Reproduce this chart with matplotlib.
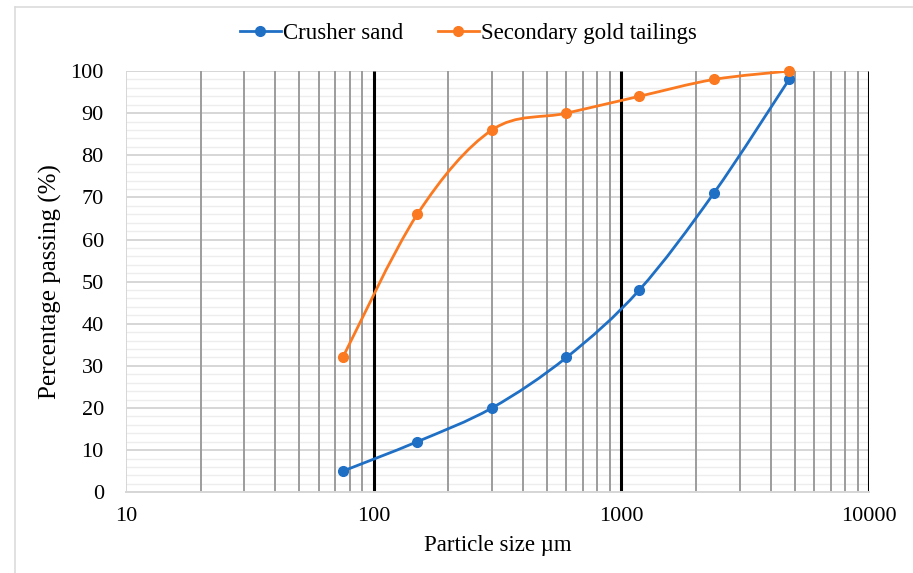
import numpy as np
import matplotlib
matplotlib.use('Agg')
import matplotlib.pyplot as plt
from matplotlib.path import Path
from matplotlib.patches import PathPatch
from matplotlib.lines import Line2D
from matplotlib.ticker import FixedLocator, NullFormatter

plt.rcParams['font.family'] = ['Liberation Serif', 'DejaVu Serif']

# sieve sizes (um) and percentage passing
sizes = [75, 150, 300, 600, 1180, 2360, 4750]
crusher_sand = [5, 12, 20, 32, 48, 71, 98]
gold_tailings = [32, 66, 86, 90, 94, 98, 100]

x_major = [10, 100, 1000, 10000]
x_minor = [m * 10 ** e for e in (1, 2, 3) for m in range(2, 10)]

BLUE = '#1f6fc5'
ORANGE = '#fb7a21'


def smooth_path(xs, ys, tension=1 / 6):
    # Excel-style smoothed line: Catmull-Rom as cubic beziers in log-x space
    lx = np.log10(xs)
    y = np.asarray(ys, dtype=float)
    n = len(lx)
    verts = [(xs[0], y[0])]
    codes = [Path.MOVETO]
    for i in range(n - 1):
        x0, y0 = (lx[i - 1], y[i - 1]) if i > 0 else (lx[i], y[i])
        x1, y1 = lx[i], y[i]
        x2, y2 = lx[i + 1], y[i + 1]
        x3, y3 = (lx[i + 2], y[i + 2]) if i + 2 < n else (x2, y2)
        c1 = (x1 + (x2 - x0) * tension, y1 + (y2 - y0) * tension)
        c2 = (x2 - (x3 - x1) * tension, y2 - (y3 - y1) * tension)
        verts += [(10 ** c1[0], c1[1]), (10 ** c2[0], c2[1]), (10 ** x2, y2)]
        codes += [Path.CURVE4] * 3
    return Path(verts, codes)


fig = plt.figure(figsize=(9.13, 5.73), dpi=100)
ax = fig.add_axes([0.138, 0.141, 0.814, 0.735])

ax.set_xscale('log')
ax.set_xlim(10, 10000)
ax.set_ylim(0, 100)

ax.yaxis.set_major_locator(FixedLocator(range(0, 101, 10)))
ax.yaxis.set_minor_locator(FixedLocator(range(0, 101, 2)))
ax.xaxis.set_major_locator(FixedLocator(x_major))
ax.xaxis.set_minor_locator(FixedLocator(x_minor))
ax.xaxis.set_minor_formatter(NullFormatter())
ax.set_xticklabels([str(v) for v in x_major])

# horizontal grid first, vertical lines on top
ax.grid(which='minor', axis='y', color='#ededed', lw=1.0)
ax.grid(which='major', axis='y', color='#d6d6d6', lw=1.4)
ax.set_axisbelow(True)
ax.vlines(x_minor, 0, 100, color='#9c9c9c', lw=1.4, zorder=1.5)
ax.vlines(x_major[1:], 0, 100, color='black', lw=2.2, zorder=1.6)
ax.vlines(x_major[0], 0, 100, color='#d6d6d6', lw=1.4, zorder=1.6)

for s in ['top', 'right', 'left']:
    ax.spines[s].set_visible(False)
ax.spines['bottom'].set_color('#d6d6d6')
ax.spines['bottom'].set_linewidth(1.4)
ax.tick_params(which='both', length=0, labelsize=16)
ax.tick_params(axis='y', pad=16)
ax.tick_params(axis='x', pad=11)

for vals, col in [(crusher_sand, BLUE), (gold_tailings, ORANGE)]:
    ax.add_patch(PathPatch(smooth_path(sizes, vals), fill=False, edgecolor=col, lw=2, zorder=3))
    ax.plot(sizes, vals, ls='none', marker='o', ms=7, color=col, zorder=4, clip_on=False)

ax.set_xlabel('Particle size µm', fontsize=16.5, labelpad=6)
ax.set_ylabel('Percentage passing (%)', fontsize=18, labelpad=6)

handles = [Line2D([], [], color=BLUE, lw=2, marker='o', ms=7),
           Line2D([], [], color=ORANGE, lw=2, marker='o', ms=7)]
fig.legend(handles, ['Crusher sand', 'Secondary gold tailings'], loc='center',
           bbox_to_anchor=(0.513, 0.942), ncol=2, frameon=False, fontsize=16.5,
           handlelength=1.8, handletextpad=0.1, columnspacing=1.5)

# light chart-area border (left and top only)
fig.add_artist(Line2D([15 / 913, 15 / 913], [0, 1 - 7 / 573], transform=fig.transFigure,
                      color='#dcdcdc', lw=1.2))
fig.add_artist(Line2D([15 / 913, 1], [1 - 7 / 573, 1 - 7 / 573], transform=fig.transFigure,
                      color='#dcdcdc', lw=1.2))

fig.savefig('out.png', dpi=100)
